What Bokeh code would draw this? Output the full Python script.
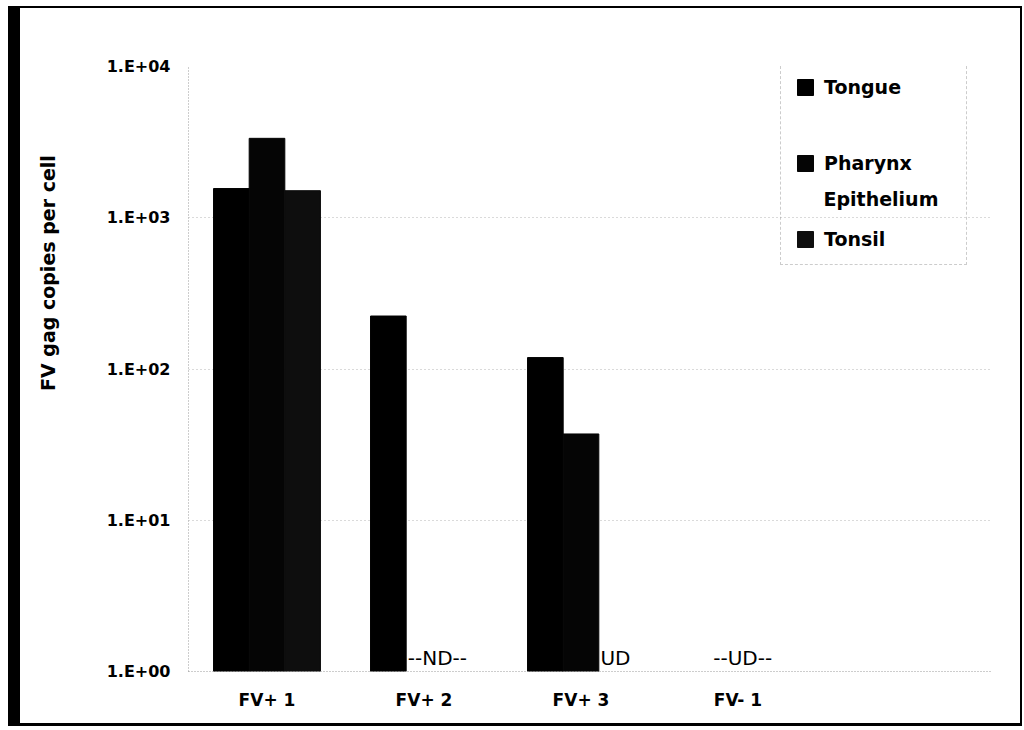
from bokeh.plotting import figure
from bokeh.models import FixedTicker, CustomJSTickFormatter, ColumnDataSource
from bokeh.core.properties import value
from bokeh.embed import file_html
from bokeh.resources import INLINE

# ---- data ----
groups = ["FV+ 1", "FV+ 2", "FV+ 3", "FV- 1"]
legend_labels = ["Tongue", "Pharynx", "Tonsil"]
legend_second_line = ["", "Epithelium", ""]
tongue = [1560, 224, 119, None]
pharynx = [3350, None, 37.2, None]
tonsil = [1510, None, None, None]
notes = ["", "--ND--", "UD", "--UD--"]
y_ticks = [1, 10, 100, 1000, 10000]
y_tick_labels = ["1.E+00", "1.E+01", "1.E+02", "1.E+03", "1.E+04"]
y_title = "FV gag copies per cell"
series = [tongue, pharynx, tonsil]

# ---- layout / style ----
FONT = "DejaVu Sans"
W, H = 1014, 720
FL, FT, FB, FR = 168, 58, 663, 970      # frame edges in canvas px
PX_PER_CAT = 157.0
x_end = (FR - FL) / PX_PER_CAT
PX_PER_DEC = (FB - FT) / 4.0
bar_w = 0.227
offsets = [-bar_w, 0.0, bar_w]
colors = ["#000000", "#050505", "#0e0e0e"]
TITLE_SHIFT_PAD = 29     # non-breaking spaces that lift the centred y title

def yval(canvas_px):
    return 10 ** ((FB - canvas_px) / PX_PER_DEC)

p = figure(width=W, height=H, x_range=(0, x_end), y_range=(1, 10000),
           y_axis_type="log", output_backend="svg", toolbar_location=None,
           min_border_left=FL, min_border_right=W - FR,
           min_border_top=FT, min_border_bottom=H - FB)
p.outline_line_color = None
p.background_fill_color = "white"
p.border_fill_color = "white"
p.styles = {"margin-left": "8px", "margin-top": "6px", "overflow": "hidden",
            "border-left": "12px solid black", "border-top": "2px solid black",
            "border-right": "2px solid black", "border-bottom": "3px solid black"}

for s, name, off, col in zip(series, legend_labels, offsets, colors):
    xs = [i + 0.5 + off for i, v in enumerate(s) if v is not None]
    ys = [v for v in s if v is not None]
    src = ColumnDataSource(dict(x=xs, top=ys))
    p.vbar(x="x", top="top", bottom=1, width=bar_w, source=src,
           fill_color=col, line_color=col, legend_label=name)

# notes for undetected samples
nx, ny, nt, na = [], [], [], []
for i, t in enumerate(notes):
    if not t:
        continue
    missing = [k for k, s in enumerate(series) if s[i] is None]
    if len(missing) == len(series):
        nx.append(i + 0.5 + 0.03); na.append("center")
    else:
        nx.append(i + 0.5 + offsets[missing[0]] - bar_w / 2 + 0.01); na.append("left")
    ny.append(1.22); nt.append(t)
p.text(x=nx, y=ny, text=nt, text_align=na, text_baseline="middle",
       text_font=value(FONT), text_font_size="20px", text_color="black")

# axes
p.xaxis.ticker = FixedTicker(ticks=[i + 0.5 for i in range(len(groups))], minor_ticks=[])
p.xaxis.formatter = CustomJSTickFormatter(args=dict(labels=groups),
                                          code="return labels[Math.floor(tick)] || '';")
p.yaxis.ticker = FixedTicker(ticks=y_ticks, minor_ticks=[])
p.yaxis.formatter = CustomJSTickFormatter(args=dict(labels=y_tick_labels),
                                          code="return labels[Math.round(Math.log10(tick))] || '';")
for ax in (p.xaxis, p.yaxis):
    ax.axis_line_color = "#9a9a9a"
    ax.axis_line_dash = "1 2"
    ax.major_tick_line_color = None
    ax.minor_tick_line_color = None
    ax.major_tick_out = 0
    ax.minor_tick_out = 0
    ax.major_label_text_font = FONT
    ax.major_label_text_font_style = "bold"
    ax.major_label_text_color = "black"
p.xaxis.major_label_text_font_size = "17px"
p.yaxis.major_label_text_font_size = "16px"
p.xaxis.major_label_standoff = 18
p.yaxis.major_label_standoff = 18
p.xgrid.visible = False
p.ygrid.grid_line_color = "#b5b5b5"
p.ygrid.grid_line_dash = "1 3"

# y-axis title
p.yaxis.axis_label = "\u00a0" * TITLE_SHIFT_PAD + y_title
p.yaxis.axis_label_text_font = FONT
p.yaxis.axis_label_text_font_style = "bold"
p.yaxis.axis_label_text_font_size = "19px"
p.yaxis.axis_label_text_color = "black"
p.yaxis.axis_label_standoff = 45

# legend
lg = p.legend[0]
lg.location = (592, 406)
lg.label_text_font = FONT
lg.label_text_font_style = "bold"
lg.label_text_font_size = "19px"
lg.label_text_color = "black"
lg.glyph_width = 20
lg.glyph_height = 20
lg.label_height = 20
lg.label_width = 128
lg.spacing = 54
lg.padding = 14
lg.margin = 0
lg.label_standoff = 9
lg.border_line_color = "#9a9a9a"
lg.border_line_dash = "1 2"
lg.background_fill_alpha = 0

# second line of the "Pharynx Epithelium" legend entry
ex = (592 + 14 + 20 + 9) / PX_PER_CAT
second = [t for t in legend_second_line if t]
p.text(x=[ex] * len(second), y=[yval(190)] * len(second), text=second,
       text_font=value(FONT), text_font_style="bold", text_font_size="19px",
       text_color="black", text_align="left", text_baseline="middle")

open("out.html", "w").write(file_html(p, INLINE))
